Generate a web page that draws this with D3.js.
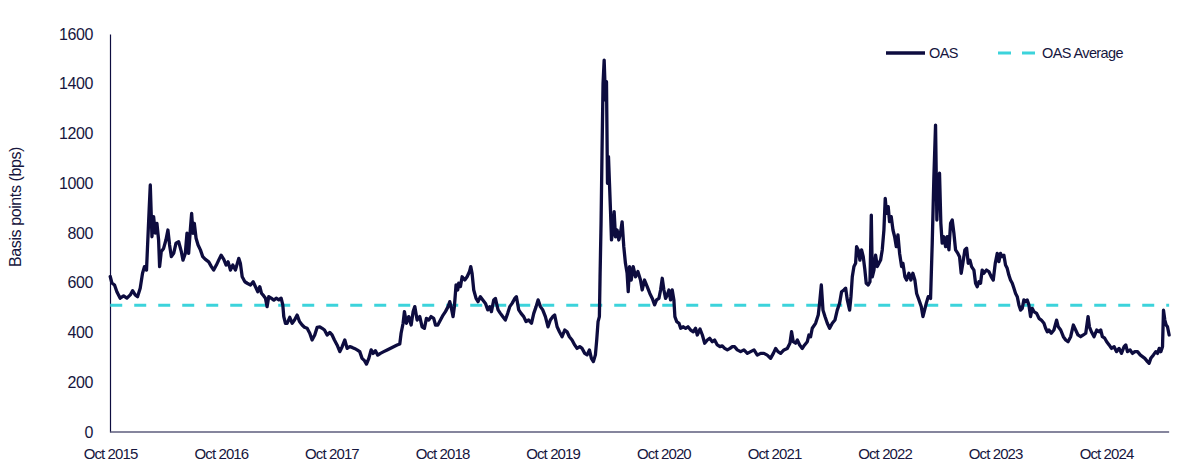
<!DOCTYPE html>
<html><head><meta charset="utf-8">
<script src="https://cdn.jsdelivr.net/npm/d3@7"></script>
<style>
body{margin:0;background:#fff}
svg{display:block}
text{font-family:"Liberation Sans",Arial,sans-serif;fill:#16163e}
</style>
</head><body>
<svg id="chart" width="1200" height="476"></svg>
<script>
const obsDates = [
2015.750,2015.765,2015.789,2015.810,2015.840,2015.871,2015.901,2015.931,2015.952,2015.976,
2015.997,2016.021,2016.042,2016.060,2016.078,2016.091,2016.103,2016.112,2016.127,2016.142,
2016.157,2016.172,2016.187,2016.196,2016.211,2016.232,2016.253,2016.271,2016.286,2016.302,
2016.323,2016.344,2016.368,2016.392,2016.407,2016.428,2016.443,2016.458,2016.473,2016.485,
2016.497,2016.509,2016.525,2016.543,2016.564,2016.585,2016.609,2016.639,2016.663,2016.684,
2016.708,2016.729,2016.751,2016.775,2016.796,2016.814,2016.835,2016.856,2016.880,2016.910,
2016.925,2016.941,2016.965,2016.986,2017.016,2017.040,2017.061,2017.082,2017.100,2017.115,
2017.136,2017.151,2017.166,2017.181,2017.203,2017.227,2017.248,2017.272,2017.293,2017.308,
2017.317,2017.332,
2017.347,2017.371,2017.393,2017.414,2017.438,2017.459,2017.483,2017.504,2017.528,2017.552,
2017.573,2017.597,2017.619,2017.643,2017.664,2017.685,2017.709,2017.733,2017.754,2017.775,
2017.799,2017.824,2017.845,2017.869,2017.890,2017.914,2017.935,2017.956,2017.980,2018.004,
2018.025,2018.047,2018.065,2018.086,2018.107,2018.125,2018.146,2018.167,2018.191,2018.221,
2018.252,2018.297,2018.342,2018.366,2018.378,2018.396,2018.408,2018.426,2018.447,2018.469,
2018.487,2018.502,2018.523,2018.547,2018.568,2018.589,2018.607,2018.628,2018.649,2018.673,
2018.689,2018.710,2018.734,2018.758,2018.779,2018.803,2018.818,2018.830,2018.848,2018.860,
2018.875,2018.890,
2018.899,2018.915,2018.930,2018.954,2018.975,2018.996,2019.008,2019.020,2019.035,2019.056,
2019.074,2019.095,2019.117,2019.141,2019.162,2019.180,2019.195,2019.216,2019.231,2019.255,
2019.276,2019.297,2019.321,2019.342,2019.361,2019.382,2019.406,2019.421,2019.442,2019.463,
2019.487,2019.508,2019.532,2019.557,2019.578,2019.599,2019.617,2019.638,2019.659,2019.683,
2019.707,2019.728,2019.750,2019.767,2019.789,2019.810,2019.834,2019.858,2019.879,2019.900,
2019.924,2019.948,2019.969,2019.994,2020.015,2020.039,2020.060,2020.081,2020.099,2020.117,
2020.135,2020.147,2020.159,2020.171,2020.177,2020.186,2020.195,2020.204,2020.214,2020.226,
2020.235,2020.244,2020.253,2020.262,2020.271,2020.280,2020.292,2020.304,2020.316,2020.331,
2020.346,2020.361,2020.376,2020.391,2020.406,2020.421,2020.431,2020.443,2020.458,2020.476,
2020.497,
2020.518,2020.542,2020.557,2020.578,2020.602,2020.626,2020.648,2020.669,2020.687,2020.708,
2020.723,2020.738,2020.753,2020.768,2020.783,2020.798,2020.813,2020.828,2020.843,2020.852,
2020.868,2020.889,2020.904,2020.928,2020.949,2020.970,2020.994,2021.018,2021.039,2021.054,
2021.079,2021.100,2021.121,2021.145,2021.166,2021.190,2021.211,2021.235,2021.259,2021.280,
2021.302,2021.326,2021.350,2021.371,2021.392,2021.416,2021.446,2021.476,2021.507,2021.537,
2021.567,2021.597,2021.627,2021.657,2021.687,2021.717,2021.742,2021.763,2021.784,2021.808,
2021.838,2021.868,2021.892,2021.907,2021.922,2021.943,2021.959,2021.980,2022.004,2022.025,
2022.049,2022.064,2022.079,
2022.094,2022.124,2022.148,2022.160,2022.176,2022.191,2022.209,2022.230,2022.251,2022.275,
2022.299,2022.320,2022.341,2022.359,2022.380,2022.396,2022.411,2022.432,2022.444,2022.456,
2022.471,2022.486,2022.495,2022.510,2022.525,2022.540,2022.555,2022.570,2022.582,2022.600,
2022.616,2022.628,2022.637,2022.652,2022.667,2022.682,2022.697,2022.712,2022.727,2022.742,
2022.754,2022.766,2022.781,2022.793,2022.808,2022.824,2022.839,2022.854,2022.869,2022.884,
2022.902,2022.914,2022.932,2022.947,2022.968,2022.986,2023.004,2023.022,2023.038,2023.059,
2023.080,2023.095,2023.110,2023.125,2023.143,2023.164,2023.179,2023.194,2023.209,2023.221,
2023.233,2023.245,2023.257,2023.269,2023.285,2023.300,2023.315,2023.330,2023.345,2023.360,
2023.375,2023.390,2023.411,2023.426,2023.441,2023.456,2023.474,2023.490,2023.505,2023.520,
2023.535,2023.556,2023.571,2023.586,2023.601,2023.616,2023.631,2023.646,
2023.670,2023.691,2023.713,2023.731,2023.749,2023.767,2023.782,2023.797,2023.812,2023.827,
2023.842,2023.857,2023.872,2023.887,2023.903,2023.918,2023.933,2023.948,2023.963,2023.978,
2023.993,2024.008,2024.023,2024.038,2024.053,2024.068,2024.083,2024.098,2024.123,2024.144,
2024.165,2024.189,2024.204,2024.219,2024.234,2024.255,2024.279,2024.303,2024.318,2024.340,
2024.364,2024.385,2024.406,2024.430,2024.454,2024.475,2024.496,2024.520,2024.544,2024.566,
2024.587,2024.599,2024.617,2024.641,2024.665,2024.686,2024.701,2024.716,2024.737,2024.755,
2024.777,2024.798,2024.822,2024.843,2024.867,2024.888,2024.912,2024.927,2024.942,2024.966,
2024.987,2025.009,2025.033,2025.057,2025.078,2025.099,2025.123,2025.138,2025.153,2025.177,
2025.198,2025.214,2025.229,2025.244,2025.259,2025.268,2025.280,2025.292,2025.304,2025.319
];

// OAS in basis points
const oasValues = [
625,599,591,564,538,547,538,551,568,551,
544,578,638,665,651,785,906,993,785,866,
800,839,772,665,725,738,772,812,752,705,
718,759,765,725,691,718,799,718,812,879,
799,839,779,752,732,705,694,684,665,651,
671,691,711,694,671,684,651,671,651,698,
677,624,604,598,591,604,584,564,584,558,
547,538,504,544,538,530,538,531,538,511,
464,437,
437,461,437,450,470,444,430,421,417,397,
370,390,421,423,417,410,390,400,390,370,
350,323,343,370,336,343,340,336,330,323,
296,287,273,296,330,316,327,309,316,323,
330,340,350,354,397,437,484,437,464,430,
484,504,450,464,423,417,457,450,464,457,
430,430,450,470,484,504,524,504,464,504,
591,571,
598,585,624,611,624,644,665,638,571,537,
524,544,531,517,491,504,484,531,537,491,
477,464,450,477,504,517,537,544,491,477,
464,444,450,437,477,504,531,504,491,464,
423,450,464,470,423,403,383,410,403,383,
370,350,336,343,336,316,310,330,296,283,
310,370,444,464,624,839,1134,1402,1495,1335,
1408,1000,1107,1000,892,772,812,886,785,812,
772,799,845,745,678,638,564,665,611,665,
624,
645,611,571,611,584,557,537,511,531,537,
571,618,571,537,551,571,531,571,531,464,
444,437,417,423,417,423,410,403,417,390,
414,390,357,370,377,363,370,350,343,346,
336,330,336,343,343,330,323,330,316,323,
330,309,316,316,309,296,316,336,323,316,
330,336,357,403,363,357,370,350,336,350,
363,390,383,
417,437,470,517,591,490,464,437,417,437,
450,490,517,564,571,578,531,490,544,624,
665,678,745,732,691,732,705,651,598,591,
604,872,624,651,711,665,678,691,732,812,
939,879,906,846,866,812,785,745,792,718,
665,678,624,611,638,611,638,611,557,531,
504,464,490,517,544,537,759,1026,1234,852,
1026,1040,839,759,785,745,785,732,839,852,
799,732,718,705,638,678,732,739,678,691,
665,651,598,584,604,598,651,638,
651,645,624,611,678,718,685,718,705,711,
671,658,631,611,598,578,557,544,511,490,
497,531,524,531,511,464,497,484,477,457,
450,437,417,403,410,397,410,450,423,410,
383,370,363,383,430,410,390,383,390,397,
464,423,403,383,410,403,410,383,377,363,
350,336,343,323,336,316,343,350,323,330,
316,323,323,310,303,296,283,276,296,310,
323,316,336,323,343,490,450,430,423,390
];

const oasAverage = 510;
const yTicks = [0,200,400,600,800,1000,1200,1400,1600];
const xTickYears = [2015,2016,2017,2018,2019,2020,2021,2022,2023,2024];
const seriesNames = ["OAS","OAS Average"];
const yAxisTitle = "Basis points (bps)";

function fromDecimalYear(t){
  const yr = Math.floor(t);
  const s = new Date(yr,0,1), e = new Date(yr+1,0,1);
  return new Date(+s + (t-yr)*(e-s));
}
const data = obsDates.map((t,i)=>({date:fromDecimalYear(t), value:oasValues[i]}));

const navy = "#0d0c3f", cyan = "#3cd3db", ink = "#16163e";
const font = "'Liberation Sans',Arial,sans-serif";
const svg = d3.select("#chart");

const x = d3.scaleTime()
  .domain([new Date(2015,9,1), new Date(2024,9,1)])
  .range([110,1106]);
const y = d3.scaleLinear().domain([0,1600]).range([432,34]);

// Y axis
const gy = svg.append("g").attr("transform","translate(110,0)")
  .call(d3.axisLeft(y).tickValues(yTicks).tickFormat(d3.format("d"))
    .tickSize(0).tickSizeOuter(0).tickPadding(17));
gy.select(".domain").attr("stroke",navy).attr("stroke-width",1.2);
gy.selectAll("text").attr("font-size","16px").attr("letter-spacing","-0.4px")
  .attr("fill",ink).attr("font-family",font);

// X axis
const gx = svg.append("g").attr("transform","translate(0,432)")
  .call(d3.axisBottom(x).tickValues(xTickYears.map(yr=>new Date(yr,9,1)))
    .tickSize(0).tickPadding(16).tickFormat(d3.timeFormat("%b %Y")));
gx.select(".domain").remove();
gx.selectAll("text").attr("font-size","15px").attr("letter-spacing","-0.9px")
  .attr("fill",ink).attr("font-family",font);
svg.append("line")
  .attr("x1",x(data[0].date)).attr("x2",x(data[data.length-1].date))
  .attr("y1",y(0)).attr("y2",y(0))
  .attr("stroke","#5d5d7c").attr("stroke-width",1.5);

// Average line
svg.append("line")
  .attr("x1",x(data[0].date)).attr("x2",x(data[data.length-1].date))
  .attr("y1",y(oasAverage)).attr("y2",y(oasAverage))
  .attr("stroke",cyan).attr("stroke-width",3)
  .attr("stroke-dasharray","12,12");

// OAS line
svg.append("path").datum(data)
  .attr("fill","none").attr("stroke",navy).attr("stroke-width",3.3)
  .attr("stroke-linejoin","round").attr("stroke-linecap","round")
  .attr("d",d3.line().x(d=>x(d.date)).y(d=>y(d.value)));

// Y title
svg.append("text")
  .attr("transform","translate(15,207) rotate(-90)")
  .attr("text-anchor","middle").attr("dominant-baseline","central")
  .attr("font-size","16px").attr("letter-spacing","-0.4px")
  .text(yAxisTitle);

// Legend
const lg = svg.append("g");
lg.append("line").attr("x1",886).attr("x2",925).attr("y1",53).attr("y2",53)
  .attr("stroke",navy).attr("stroke-width",3.3);
lg.append("text").attr("x",929).attr("y",53).attr("dominant-baseline","central")
  .attr("font-size","14.5px").attr("letter-spacing","-0.6px").text(seriesNames[0]);
lg.append("line").attr("x1",998).attr("x2",1036).attr("y1",53).attr("y2",53)
  .attr("stroke",cyan).attr("stroke-width",3).attr("stroke-dasharray","13,11");
lg.append("text").attr("x",1042).attr("y",53).attr("dominant-baseline","central")
  .attr("font-size","14.5px").attr("letter-spacing","-0.6px").text(seriesNames[1]);
</script>
</body></html>
